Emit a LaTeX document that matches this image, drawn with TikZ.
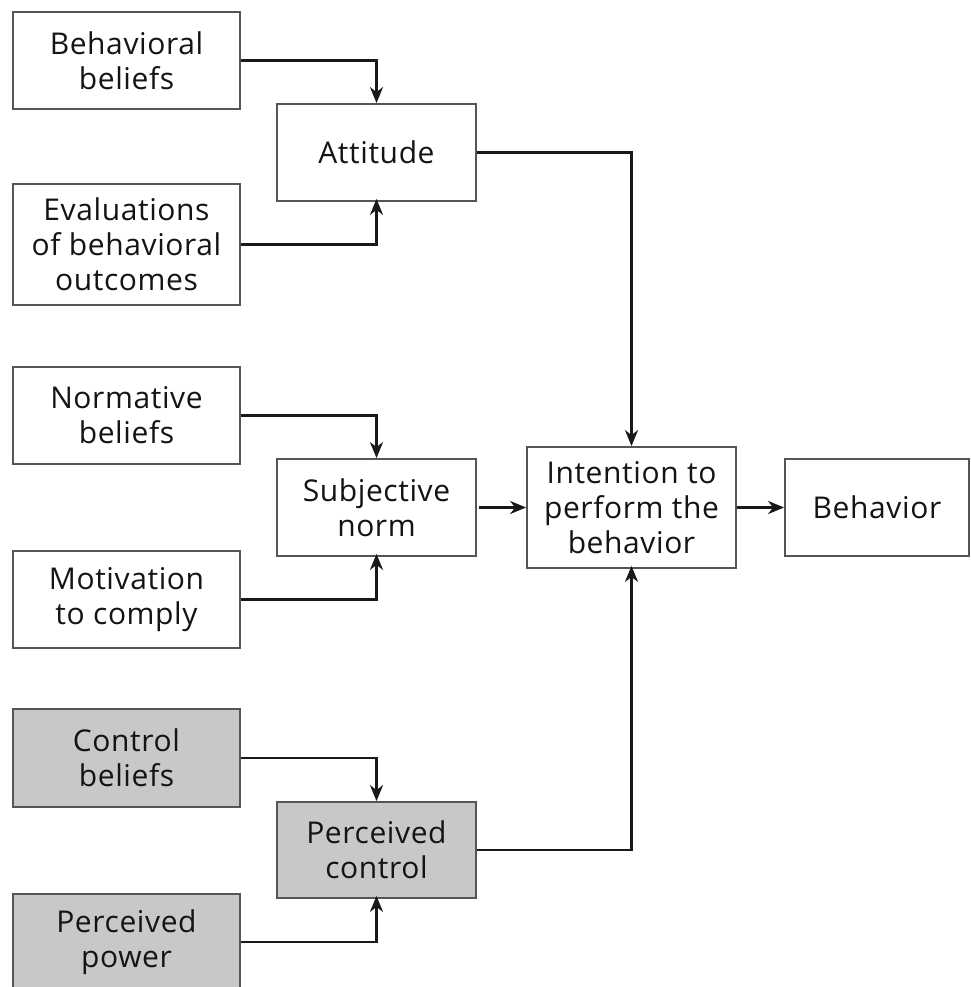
\documentclass[tikz,border=0pt]{standalone}
\usepackage{fontspec}
\setmainfont{Open Sans}[LetterSpace=2]
\usetikzlibrary{arrows.meta}
\definecolor{boxline}{RGB}{85,85,85}
\definecolor{boxgray}{RGB}{200,200,200}
\definecolor{txt}{RGB}{20,20,20}
\begin{document}
\begin{tikzpicture}[x=1pt,y=-1pt,
  box/.style={draw=boxline,line width=1.8pt,fill=white,align=center,inner sep=0pt,
    text=txt,font=\fontsize{30}{35}\selectfont},
  lbox/.style={box,minimum width=227pt,minimum height=97pt},
  mbox/.style={box,minimum width=199pt,minimum height=97pt},
  graybox/.style={fill=boxgray},
  arr/.style={draw=black!90,line width=2.4pt,-{Stealth[length=16pt,width=13pt,inset=5pt]}}]
\clip (0,0) rectangle (970,987);
\fill[white] (0,0) rectangle (970,987);
\node[lbox] (bb) at (126.5,60.5) {Behavioral\\beliefs};
\node[lbox,minimum height=121pt] (ev) at (126.5,244.5) {Evaluations\\of behavioral\\outcomes};
\node[lbox] (nb) at (126.5,415.5) {Normative\\beliefs};
\node[lbox] (mc) at (126.5,599.5) {Motivation\\to comply};
\node[lbox,graybox,minimum height=98pt] (cb) at (126.5,758) {Control\\beliefs};
\node[lbox,graybox,minimum height=96pt] (pp) at (126.5,942) {Perceived\\power};
\node[mbox] (att) at (376.5,152.5) {Attitude};
\node[mbox] (sn) at (376.5,507.5) {Subjective\\norm};
\node[mbox,graybox,minimum height=96pt] (pc) at (376.5,850) {Perceived\\control};
\node[box,minimum width=209pt,minimum height=121pt] (int) at (631.5,507.5) {Intention to\\perform the\\behavior};
\node[box,minimum width=184pt,minimum height=97pt] (beh) at (877,507.5) {Behavior};
\draw[arr] (bb.east) -| (att.north);
\draw[arr] (ev.east) -| ([yshift=3pt]att.south);
\draw[arr] (nb.east) -| (sn.north);
\draw[arr] (mc.east) -| ([yshift=3pt]sn.south);
\draw[arr] (cb.east) -| (pc.north);
\draw[arr] (pp.east) -| ([yshift=3pt]pc.south);
\draw[arr] (att.east) -| (int.north);
\draw[arr] ([xshift=2pt]sn.east) -- (int.west);
\draw[arr] (pc.east) -| ([yshift=3pt]int.south);
\draw[arr] (int.east) -- (beh.west);
\end{tikzpicture}
\end{document}
